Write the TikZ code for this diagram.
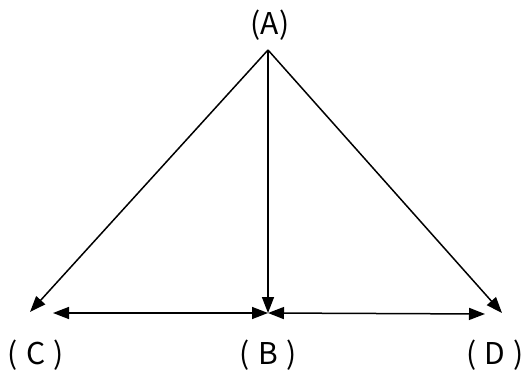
\documentclass[tikz,border=0pt]{standalone}
\usepackage{fontspec}
\newfontfamily\jpfont{Noto Sans CJK JP}
\usetikzlibrary{arrows.meta}

\begin{document}
\begin{tikzpicture}[x=1pt,y=1pt,
  arr/.style={line width=1.5pt,-{Triangle[length=16pt,width=12pt]}},
  dbl/.style={line width=1.5pt,{Triangle[length=16pt,width=12pt]}-{Triangle[length=16pt,width=12pt]}},
  lbl/.style={font=\jpfont\fontsize{30}{34}\selectfont,inner sep=0pt}]
  \useasboundingbox (0,0) rectangle (525,373);
  % apex and tips
  \coordinate (A) at (268,323);
  \coordinate (C) at (30,61);
  \coordinate (B) at (268,60);
  \coordinate (D) at (502,60);
  \coordinate (Cr) at (53,60);
  \coordinate (Dl) at (485,59);
  % labels
  \node[lbl] (la) at (270,348) {(A)};
  \node[lbl] (lc) at (36,18) {(\;C\;)};
  \node[lbl] (lb) at (268,18) {(\;B\;)};
  \node[lbl] (ld) at (495,18) {(\;D\;)};
  % arrows from A
  \draw[arr] (A) -- (C);
  \draw[arr] (A) -- (B);
  \draw[arr] (A) -- (D);
  % bottom arrows
  \draw[dbl] (Cr) -- (B);
  \draw[dbl] (B) -- (Dl);
\end{tikzpicture}
\end{document}
